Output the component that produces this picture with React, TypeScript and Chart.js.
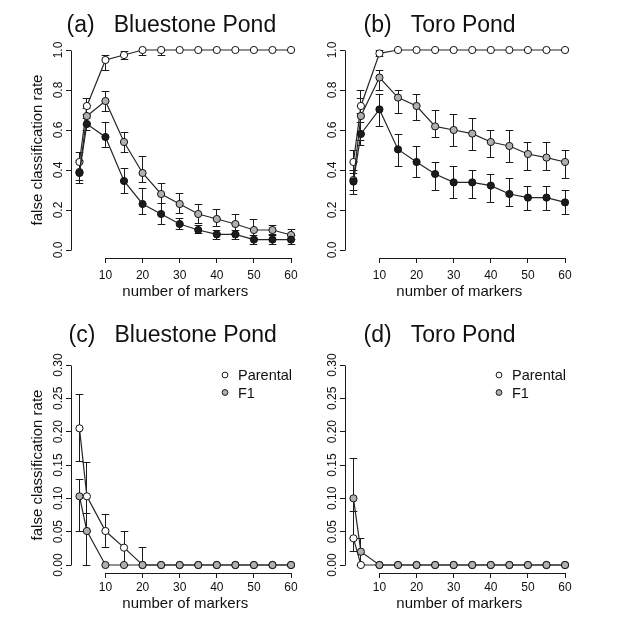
import React, { useEffect, useRef } from "react";
import { Chart, registerables } from "chart.js";

Chart.register(...registerables);

const FONT = '"Liberation Sans", Arial, Helvetica, sans-serif';

// ---------- data ----------
const markerCounts = [3, 5, 10, 15, 20, 25, 30, 35, 40, 45, 50, 55, 60];
const xTickValues = [10, 20, 30, 40, 50, 60];
const yTicksTop = [0, 0.2, 0.4, 0.6, 0.8, 1.0];
const yTickLabelsTop = ["0.0", "0.2", "0.4", "0.6", "0.8", "1.0"];
const yTicksBottom = [0, 0.05, 0.1, 0.15, 0.2, 0.25, 0.3];
const yTickLabelsBottom = ["0.00", "0.05", "0.10", "0.15", "0.20", "0.25", "0.30"];

const panelLetters = ["(a)", "(b)", "(c)", "(d)"];
const pondNames = ["Bluestone Pond", "Toro Pond", "Bluestone Pond", "Toro Pond"];
const legendLabels = ["Parental", "F1"];
const xAxisTitle = "number of markers";
const yAxisTitle = "false classification rate";

// (a) Bluestone Pond, top
const bluestoneOpen = [0.44, 0.72, 0.95, 0.975, 1.0, 1.0, 1.0, 1.0, 1.0, 1.0, 1.0, 1.0, 1.0];
const bluestoneOpenLo = [0.39, 0.675, 0.9, 0.955, 0.975, 0.975, null, null, null, null, null, null, null];
const bluestoneOpenHi = [0.49, 0.76, 0.975, 0.995, null, null, null, null, null, null, null, null, null];
const bluestoneGrey = [0.39, 0.67, 0.745, 0.54, 0.385, 0.28, 0.23, 0.18, 0.155, 0.13, 0.1, 0.1, 0.075];
const bluestoneGreyLo = [0.35, 0.63, 0.695, 0.488, 0.337, 0.233, 0.183, 0.133, 0.117, 0.083, 0.058, 0.078, 0.053];
const bluestoneGreyHi = [0.45, 0.71, 0.795, 0.588, 0.467, 0.333, 0.283, 0.23, 0.203, 0.178, 0.153, 0.125, 0.103];
const bluestoneBlack = [0.385, 0.63, 0.565, 0.345, 0.23, 0.18, 0.13, 0.1, 0.078, 0.078, 0.052, 0.052, 0.052];
const bluestoneBlackLo = [0.333, 0.6, 0.515, 0.283, 0.18, 0.13, 0.103, 0.083, 0.053, 0.053, 0.03, 0.03, 0.03];
const bluestoneBlackHi = [0.44, 0.66, 0.638, 0.408, 0.308, 0.233, 0.158, 0.125, 0.1, 0.1, 0.075, 0.075, 0.075];

// (b) Toro Pond, top
const toroOpen = [0.44, 0.72, 0.983, 1.0, 1.0, 1.0, 1.0, 1.0, 1.0, 1.0, 1.0, 1.0, 1.0];
const toroOpenLo = [0.4, 0.68, 0.97, null, null, null, null, null, null, null, null, null, null];
const toroOpenHi = [0.5, 0.76, 1.0, null, null, null, null, null, null, null, null, null, null];
const toroGrey = [0.35, 0.67, 0.862, 0.762, 0.72, 0.618, 0.6, 0.582, 0.54, 0.52, 0.48, 0.462, 0.44];
const toroGreyLo = [0.3, 0.55, 0.8, 0.68, 0.645, 0.562, 0.52, 0.5, 0.462, 0.438, 0.4, 0.4, 0.36];
const toroGreyHi = [0.4, 0.8, 0.9, 0.797, 0.778, 0.7, 0.678, 0.658, 0.6, 0.6, 0.538, 0.54, 0.5];
const toroBlack = [0.342, 0.58, 0.703, 0.503, 0.44, 0.38, 0.338, 0.338, 0.322, 0.28, 0.262, 0.262, 0.238];
const toroBlackLo = [0.28, 0.525, 0.62, 0.42, 0.362, 0.3, 0.26, 0.26, 0.238, 0.22, 0.2, 0.2, 0.18];
const toroBlackHi = [0.383, 0.64, 0.778, 0.578, 0.517, 0.438, 0.418, 0.4, 0.378, 0.358, 0.32, 0.32, 0.3];

// (c) Bluestone Pond, bottom
const bluestoneParental = [0.205, 0.103, 0.051, 0.026, 0, 0, 0, 0, 0, 0, 0, 0, 0];
const bluestoneParentalLo = [0.155, 0.05, 0.026, 0, null, null, null, null, null, null, null, null, null];
const bluestoneParentalHi = [0.256, 0.154, 0.076, 0.051, 0.026, null, null, null, null, null, null, null, null];
const bluestoneF1 = [0.103, 0.051, 0, 0, 0, 0, 0, 0, 0, 0, 0, 0, 0];
const bluestoneF1Lo = [0.05, 0, null, null, null, null, null, null, null, null, null, null, null];
const bluestoneF1Hi = [0.128, 0.077, null, null, null, null, null, null, null, null, null, null, null];

// (d) Toro Pond, bottom
const toroParental = [0.04, 0, 0, 0, 0, 0, 0, 0, 0, 0, 0, 0, 0];
const toroParentalLo = [0.02, null, null, null, null, null, null, null, null, null, null, null, null];
const toroParentalHi = [0.08, null, null, null, null, null, null, null, null, null, null, null, null];
const toroF1 = [0.1, 0.02, 0, 0, 0, 0, 0, 0, 0, 0, 0, 0, 0];
const toroF1Lo = [0.04, 0, null, null, null, null, null, null, null, null, null, null, null];
const toroF1Hi = [0.16, 0.04, null, null, null, null, null, null, null, null, null, null, null];

// ---------- styles ----------
const OPEN = "#ffffff";
const GREY = "#b0b0b0";
const BLACK = "#1c1c1c";
const INK = "#1a1a1a";

type Series = {
  label: string;
  values: number[];
  lo: (number | null)[];
  hi: (number | null)[];
  fill: string;
  order: number;
};

type Panel = {
  index: number;
  left: number;
  top: number;
  w: number;
  h: number;
  chartLeft: number;
  chartRight: number;
  chartTop: number;
  chartBottom: number;
  yMin: number;
  yMax: number;
  yTicks: number[];
  yTickLabels: string[];
  showYTitle: boolean;
  showLegend: boolean;
  titleOffset: number;
  tickPad: number;
  xTitlePad: number;
  series: Series[];
};

const topSeries = (o: number[], oLo: any[], oHi: any[], g: number[], gLo: any[], gHi: any[], b: number[], bLo: any[], bHi: any[]): Series[] => [
  { label: "open", values: o, lo: oLo, hi: oHi, fill: OPEN, order: 3 },
  { label: "grey", values: g, lo: gLo, hi: gHi, fill: GREY, order: 2 },
  { label: "black", values: b, lo: bLo, hi: bHi, fill: BLACK, order: 1 },
];

const bottomSeries = (p: number[], pLo: any[], pHi: any[], f: number[], fLo: any[], fHi: any[]): Series[] => [
  { label: legendLabels[0], values: p, lo: pLo, hi: pHi, fill: OPEN, order: 2 },
  { label: legendLabels[1], values: f, lo: fLo, hi: fHi, fill: GREY, order: 1 },
];

const panels: Panel[] = [
  {
    index: 0, left: 0, top: 0, w: 314, h: 310,
    chartLeft: 71, chartRight: 299.5, chartTop: 42, chartBottom: 258,
    yMin: -0.04, yMax: 1.04, yTicks: yTicksTop, yTickLabels: yTickLabelsTop,
    showYTitle: true, showLegend: false, titleOffset: -4.5, tickPad: 5, xTitlePad: 9,
    series: topSeries(bluestoneOpen, bluestoneOpenLo, bluestoneOpenHi, bluestoneGrey, bluestoneGreyLo, bluestoneGreyHi, bluestoneBlack, bluestoneBlackLo, bluestoneBlackHi),
  },
  {
    index: 1, left: 314, top: 0, w: 315, h: 310,
    chartLeft: 31, chartRight: 259.5, chartTop: 42, chartBottom: 258,
    yMin: -0.04, yMax: 1.04, yTicks: yTicksTop, yTickLabels: yTickLabelsTop,
    showYTitle: false, showLegend: false, titleOffset: 18.5, tickPad: 5, xTitlePad: 9,
    series: topSeries(toroOpen, toroOpenLo, toroOpenHi, toroGrey, toroGreyLo, toroGreyHi, toroBlack, toroBlackLo, toroBlackHi),
  },
  {
    index: 2, left: 0, top: 310, w: 314, h: 310,
    chartLeft: 71, chartRight: 299.5, chartTop: 47, chartBottom: 263,
    yMin: -0.012, yMax: 0.312, yTicks: yTicksBottom, yTickLabels: yTickLabelsBottom,
    showYTitle: true, showLegend: true, titleOffset: -2.5, tickPad: 2, xTitlePad: 7,
    series: bottomSeries(bluestoneParental, bluestoneParentalLo, bluestoneParentalHi, bluestoneF1, bluestoneF1Lo, bluestoneF1Hi),
  },
  {
    index: 3, left: 314, top: 310, w: 315, h: 310,
    chartLeft: 31, chartRight: 259.5, chartTop: 47, chartBottom: 263,
    yMin: -0.012, yMax: 0.312, yTicks: yTicksBottom, yTickLabels: yTickLabelsBottom,
    showYTitle: false, showLegend: true, titleOffset: 18.5, tickPad: 2, xTitlePad: 7,
    series: bottomSeries(toroParental, toroParentalLo, toroParentalHi, toroF1, toroF1Lo, toroF1Hi),
  },
];

const align = (v: number) => Math.round(v - 0.5) + 0.5;

function makePlugin(p: Panel) {
  return {
    id: "rStyle" + p.index,
    beforeDatasetsDraw(chart: any) {
      const { ctx } = chart;
      const xs = chart.scales.x;
      const ys = chart.scales.y;
      ctx.save();
      ctx.strokeStyle = INK;
      ctx.lineWidth = 1;
      p.series.forEach((s) => {
        markerCounts.forEach((m, i) => {
          const px = align(xs.getPixelForValue(m));
          const pv = ys.getPixelForValue(s.values[i]);
          [s.lo[i], s.hi[i]].forEach((b) => {
            if (b === null || b === undefined || b === s.values[i]) return;
            const pb = align(ys.getPixelForValue(b));
            ctx.beginPath();
            ctx.moveTo(px, pv);
            ctx.lineTo(px, pb);
            ctx.moveTo(px - 3.8, pb);
            ctx.lineTo(px + 3.8, pb);
            ctx.stroke();
          });
        });
      });
      ctx.restore();
    },
    afterDraw(chart: any) {
      const { ctx, chartArea } = chart;
      const xs = chart.scales.x;
      const ys = chart.scales.y;
      ctx.save();
      ctx.strokeStyle = INK;
      ctx.lineWidth = 1;
      // axis lines spanning first..last tick (R style)
      const xb = align(chartArea.bottom);
      ctx.beginPath();
      ctx.moveTo(align(xs.getPixelForValue(xTickValues[0])), xb);
      ctx.lineTo(align(xs.getPixelForValue(xTickValues[xTickValues.length - 1])), xb);
      const yl = align(chartArea.left);
      ctx.moveTo(yl, align(ys.getPixelForValue(p.yTicks[0])));
      ctx.lineTo(yl, align(ys.getPixelForValue(p.yTicks[p.yTicks.length - 1])));
      ctx.stroke();

      // rotated y tick labels
      ctx.fillStyle = "#111";
      ctx.font = `12px ${FONT}`;
      ctx.textAlign = "center";
      ctx.textBaseline = "alphabetic";
      p.yTicks.forEach((v, i) => {
        const py = ys.getPixelForValue(v);
        ctx.save();
        ctx.translate(chartArea.left - 9.5, py);
        ctx.rotate(-Math.PI / 2);
        ctx.fillText(p.yTickLabels[i], 0, 0);
        ctx.restore();
      });

      // panel title
      ctx.font = `23px ${FONT}`;
      ctx.textAlign = "left";
      ctx.fillStyle = "#111";
      ctx.fillText(`${panelLetters[p.index]}   ${pondNames[p.index]}`, chartArea.left + p.titleOffset, 32);

      // legend
      if (p.showLegend) {
        const cx = chartArea.left + 154;
        p.series.forEach((s, i) => {
          const cy = chartArea.top + 18 + i * 17.5;
          ctx.beginPath();
          ctx.arc(cx, cy, 2.9, 0, Math.PI * 2);
          ctx.fillStyle = s.fill;
          ctx.fill();
          ctx.strokeStyle = INK;
          ctx.stroke();
          ctx.fillStyle = "#111";
          ctx.font = `14.5px ${FONT}`;
          ctx.fillText(s.label, chartArea.left + 167, cy + 5.2);
        });
      }
      ctx.restore();
    },
  };
}

function PanelChart({ p }: { p: Panel }) {
  const ref = useRef<HTMLCanvasElement | null>(null);
  useEffect(() => {
    if (!ref.current) return;
    const chart = new Chart(ref.current, {
      type: "line",
      data: {
        datasets: p.series.map((s) => ({
          label: s.label,
          data: markerCounts.map((m, i) => ({ x: m, y: s.values[i] })),
          borderColor: "#262626",
          borderWidth: 1.2,
          pointRadius: 3.6,
          pointBorderWidth: 1,
          pointBackgroundColor: s.fill,
          pointBorderColor: "#111",
          backgroundColor: s.fill,
          tension: 0,
          fill: false,
          order: s.order,
        })),
      },
      options: {
        responsive: false,
        animation: false,
        events: [],
        layout: {
          padding: { left: 0, right: p.w - p.chartRight, top: p.chartTop, bottom: 0 },
        },
        plugins: {
          legend: { display: false },
          tooltip: { enabled: false },
          title: { display: false },
        },
        scales: {
          x: {
            type: "linear",
            min: 0.72,
            max: 62.28,
            afterBuildTicks: (scale: any) => {
              scale.ticks = xTickValues.map((v) => ({ value: v }));
            },
            afterFit: (scale: any) => {
              scale.height = p.h - p.chartBottom;
            },
            border: { display: false },
            grid: {
              display: true,
              drawOnChartArea: false,
              drawTicks: true,
              tickLength: 5,
              color: INK,
              lineWidth: 1,
            },
            ticks: {
              autoSkip: false,
              maxRotation: 0,
              minRotation: 0,
              padding: p.tickPad,
              color: "#111",
              font: { family: FONT, size: 12 },
              callback: (v: any) => String(v),
            },
            title: {
              display: true,
              text: xAxisTitle,
              color: "#111",
              font: { family: FONT, size: 15 },
              padding: { top: 0, bottom: p.xTitlePad },
            },
          },
          y: {
            type: "linear",
            min: p.yMin,
            max: p.yMax,
            afterBuildTicks: (scale: any) => {
              scale.ticks = p.yTicks.map((v) => ({ value: v }));
            },
            afterFit: (scale: any) => {
              scale.width = p.chartLeft;
            },
            border: { display: false },
            grid: {
              display: true,
              drawOnChartArea: false,
              drawTicks: true,
              tickLength: 5,
              color: INK,
              lineWidth: 1,
            },
            ticks: { display: false },
            title: {
              display: p.showYTitle,
              text: yAxisTitle,
              color: "#111",
              font: { family: FONT, size: 15 },
              padding: { top: 29, bottom: 0 },
            },
          },
        },
      },
      plugins: [makePlugin(p)],
    } as any);
    return () => chart.destroy();
  }, []);
  return (
    <canvas
      ref={ref}
      width={p.w}
      height={p.h}
      style={{ position: "absolute", left: p.left, top: p.top, width: p.w, height: p.h }}
    />
  );
}

export default function App() {
  return (
    <div
      style={{
        position: "absolute",
        left: 0,
        top: 0,
        width: 629,
        height: 620,
        background: "#ffffff",
        overflow: "hidden",
      }}
    >
      {panels.map((p) => (
        <PanelChart key={p.index} p={p} />
      ))}
    </div>
  );
}
